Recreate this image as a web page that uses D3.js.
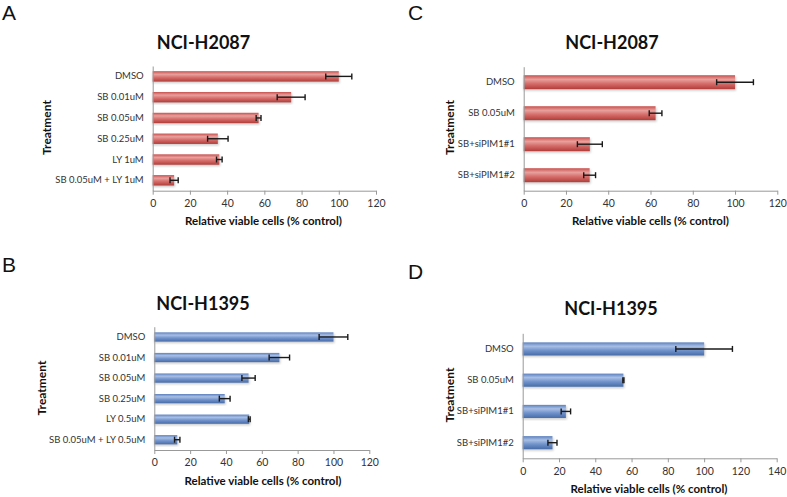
<!DOCTYPE html>
<html>
<head>
<meta charset="utf-8">
<script src="https://cdn.jsdelivr.net/npm/d3@7"></script>
<style>
  body { margin: 0; background: #fff; }
  svg { display: block; }
  .tick text { fill: #333; }
</style>
</head>
<body>
<svg id="fig" width="787" height="497"></svg>
<script>
// panel A / B categories
const drugLabelsA = ["DMSO", "SB 0.01uM", "SB 0.05uM", "SB 0.25uM", "LY 1uM", "SB 0.05uM + LY 1uM"];
const drugLabelsB = ["DMSO", "SB 0.01uM", "SB 0.05uM", "SB 0.25uM", "LY 0.5uM", "SB 0.05uM + LY 0.5uM"];
// panel C / D categories
const siLabels = ["DMSO", "SB 0.05uM", "SB+siPIM1#1", "SB+siPIM1#2"];

// values (% control) and error half-widths
const valuesA = [100, 74.4, 56.9, 35.0, 35.8, 11.5];
const errorsA = [7.0, 7.5, 1.3, 5.5, 1.5, 2.2];
const valuesB = [100, 69.8, 52.6, 39.3, 53.0, 12.8];
const errorsB = [8.0, 5.7, 3.7, 3.0, 0.5, 1.5];
const valuesC = [100, 62.4, 31.3, 31.2];
const errorsC = [8.7, 3.0, 5.9, 2.8];
const valuesD = [100, 55.5, 23.8, 16.4];
const errorsD = [15.6, 0.3, 2.6, 2.5];

const ticks120 = [0, 20, 40, 60, 80, 100, 120];
const ticks140 = [0, 20, 40, 60, 80, 100, 120, 140];

const red = ["#c9504d", "#e8a09d", "#d66e6b", "#b23c39"];
const blue = ["#5c80bf", "#a8bfe4", "#7394cd", "#476ca8"];

const svg = d3.select("#fig");
const defs = svg.append("defs");

function makeGrad(id, c) {
    var g = defs.append("linearGradient")
        .attr("id", id)
        .attr("x1", 0).attr("y1", 0)
        .attr("x2", 0).attr("y2", 1);
    g.append("stop").attr("offset", "0%").attr("stop-color", c[0]);
    g.append("stop").attr("offset", "30%").attr("stop-color", c[1]);
    g.append("stop").attr("offset", "60%").attr("stop-color", c[2]);
    g.append("stop").attr("offset", "100%").attr("stop-color", c[3]);
}
makeGrad("gradRed", red);
makeGrad("gradBlue", blue);

defs.append("filter").attr("id", "blur")
    .append("feGaussianBlur").attr("stdDeviation", 0.8);

const panels = [
    { letter: "A", lx: 2, ly: 20, title: "NCI-H2087", tx: 203.5, ty: 49,
      left: 152.7, right: 376, top: 66, bottom: 190.7, max: 120, ticks: ticks120,
      labels: drugLabelsA, values: valuesA, errors: errorsA, fill: "gradRed",
      trX: 47, trY: 127.5, axX: 263.5, axY: 225, pad: 0.5 },
    { letter: "B", lx: 2, ly: 272, title: "NCI-H1395", tx: 203, ty: 310,
      left: 154.3, right: 369.3, top: 326.7, bottom: 450, max: 120, ticks: ticks120,
      labels: drugLabelsB, values: valuesB, errors: errorsB, fill: "gradBlue",
      trX: 42, trY: 388, axX: 263, axY: 485, pad: 0.55 },
    { letter: "C", lx: 408, ly: 20, title: "NCI-H2087", tx: 612, ty: 48.5,
      left: 523.7, right: 777.3, top: 66.7, bottom: 190.7, max: 120, ticks: ticks120,
      labels: siLabels, values: valuesC, errors: errorsC, fill: "gradRed",
      trX: 449.5, trY: 127.5, axX: 650.5, axY: 225, pad: 0.55 },
    { letter: "D", lx: 408, ly: 279, title: "NCI-H1395", tx: 611, ty: 315,
      left: 522.7, right: 776.7, top: 333.3, bottom: 458.3, max: 140, ticks: ticks140,
      labels: siLabels, values: valuesD, errors: errorsD, fill: "gradBlue",
      trX: 449.5, trY: 395, axX: 649, axY: 493, pad: 0.58 }
];

panels.forEach(drawPanel);

function drawPanel(p) {
    var g = svg.append("g");

    var x = d3.scaleLinear().domain([0, p.max]).range([p.left, p.right]);
    var y = d3.scaleBand().domain(p.labels).range([p.top, p.bottom]).paddingInner(p.pad).paddingOuter(p.pad / 2);

    var rows = p.labels.map((l, i) => ({ label: l, v: p.values[i], e: p.errors[i] }));

    // panel letter
    g.append("text")
        .attr("x", p.lx).attr("y", p.ly)
        .attr("font-family", "Liberation Sans, Arial, sans-serif")
        .attr("font-size", 21)
        .attr("fill", "#111")
        .text(p.letter);

    // title
    g.append("text")
        .attr("x", p.tx).attr("y", p.ty)
        .attr("text-anchor", "middle")
        .attr("font-family", "Lato, sans-serif")
        .attr("font-weight", "bold")
        .attr("font-size", 18)
        .attr("fill", "#111")
        .text(p.title);

    // bar shadows
    g.selectAll(".shadow").data(rows).enter().append("rect")
        .attr("x", x(0))
        .attr("y", d => y(d.label) + 1.5)
        .attr("width", d => x(d.v) - x(0) + 1)
        .attr("height", y.bandwidth())
        .attr("fill", "#999")
        .attr("opacity", 0.5)
        .attr("filter", "url(#blur)");

    // bars
    g.selectAll(".bar").data(rows).enter().append("rect")
        .attr("x", x(0))
        .attr("y", d => y(d.label))
        .attr("width", d => x(d.v) - x(0))
        .attr("height", y.bandwidth())
        .attr("fill", "url(#" + p.fill + ")");

    // error bars
    var cap = 3;
    rows.forEach(d => {
        var cy = y(d.label) + y.bandwidth() / 2;
        var eg = g.append("g").attr("stroke", "#1a1a1a").attr("stroke-width", 1.4);
        eg.append("line").attr("x1", x(d.v - d.e)).attr("x2", x(d.v + d.e)).attr("y1", cy).attr("y2", cy);
        eg.append("line").attr("x1", x(d.v - d.e)).attr("x2", x(d.v - d.e)).attr("y1", cy - cap).attr("y2", cy + cap);
        eg.append("line").attr("x1", x(d.v + d.e)).attr("x2", x(d.v + d.e)).attr("y1", cy - cap).attr("y2", cy + cap);
    });

    // x axis
    var xa = g.append("g")
        .attr("transform", "translate(0," + p.bottom + ")")
        .call(d3.axisBottom(x).tickValues(p.ticks).tickSize(4).tickSizeOuter(0).tickPadding(5));
    xa.select(".domain").attr("stroke", "#999");
    xa.selectAll(".tick line").attr("stroke", "#999");
    xa.selectAll("text")
        .attr("font-family", "Lato, sans-serif")
        .attr("font-size", 10.5)
        .attr("fill", "#333");

    // y axis
    var ya = g.append("g")
        .attr("transform", "translate(" + p.left + ",0)")
        .call(d3.axisLeft(y).tickSize(0).tickPadding(9));
    ya.select(".domain").attr("stroke", "#999");
    ya.selectAll("text")
        .attr("font-family", "Lato, sans-serif")
        .attr("font-size", 9.5)
        .attr("fill", "#333");

    // axis titles
    g.append("text")
        .attr("x", p.axX).attr("y", p.axY)
        .attr("text-anchor", "middle")
        .attr("font-family", "Lato, sans-serif")
        .attr("font-weight", "bold")
        .attr("font-size", 11.5)
        .attr("fill", "#111")
        .text("Relative viable cells (% control)");

    g.append("text")
        .attr("transform", "translate(" + (p.trX + 4) + "," + p.trY + ") rotate(-90)")
        .attr("text-anchor", "middle")
        .attr("font-family", "Lato, sans-serif")
        .attr("font-weight", "bold")
        .attr("font-size", 12)
        .attr("fill", "#111")
        .text("Treatment");
}
</script>
</body>
</html>
